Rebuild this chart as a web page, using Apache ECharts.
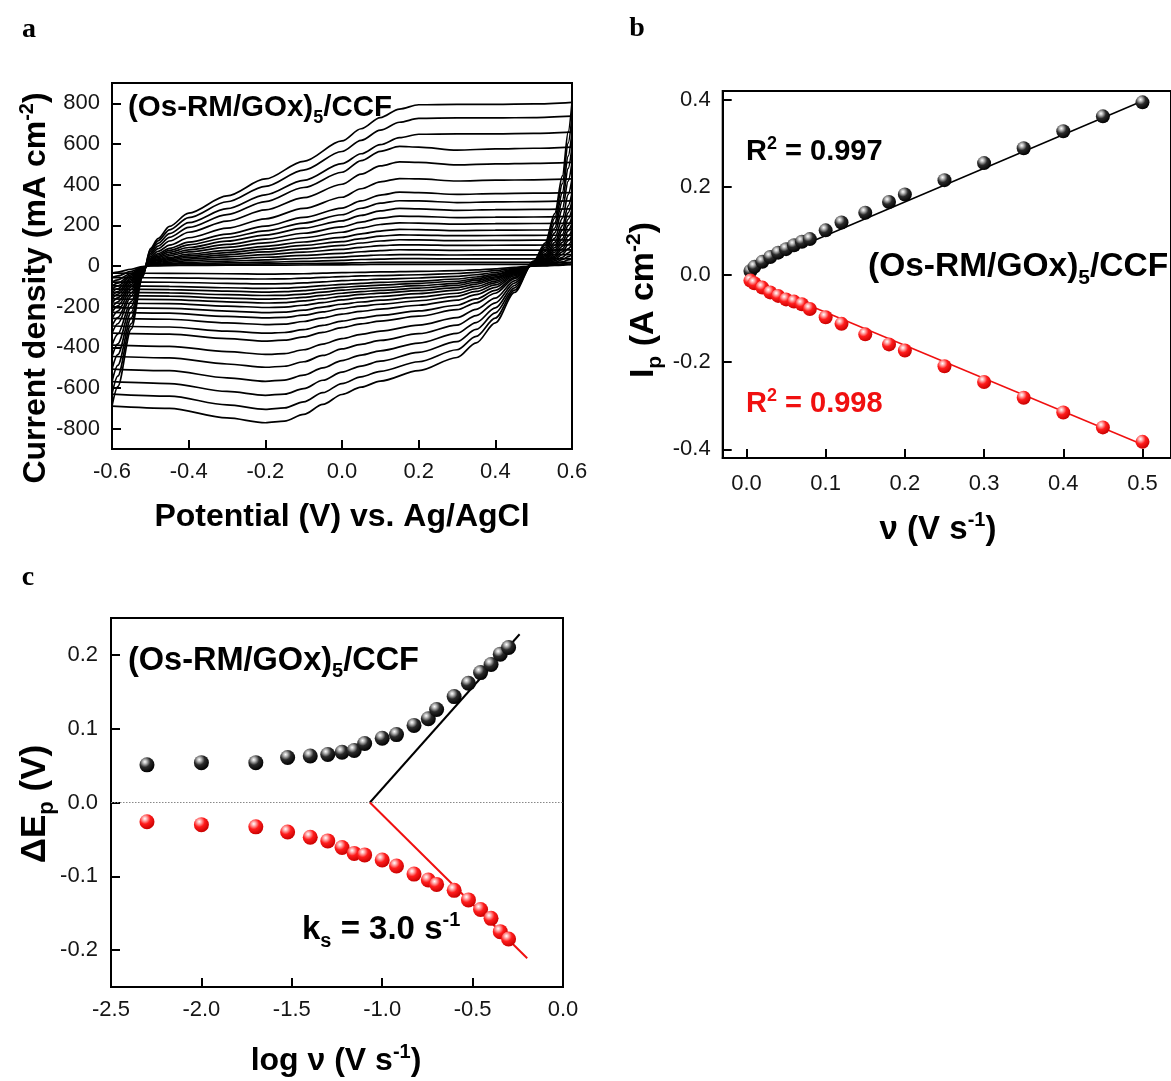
<!DOCTYPE html>
<html><head><meta charset="utf-8">
<script src="https://cdn.jsdelivr.net/npm/echarts@6/dist/echarts.min.js"></script>
<style>html,body{margin:0;padding:0;background:#fff}#c{width:1171px;height:1081px}</style>
</head><body><div id="c"></div><script>
// ---------- Panel a: CV curves ----------
const cvScanRates = [0.5, 0.45, 0.4, 0.35, 0.3, 0.25, 0.2, 0.18, 0.15, 0.12, 0.1, 0.08, 0.07, 0.06, 0.05, 0.04, 0.03, 0.02, 0.01, 0.005];
const cvPotentialAnodic = [-0.6, -0.585, -0.55, -0.52, -0.5, -0.48, -0.45, -0.4, -0.3, -0.2, -0.1, 0, 0.05, 0.1, 0.15, 0.2, 0.3, 0.4, 0.5, 0.6];
const cvPotentialCathodic = [0.6, 0.59, 0.575, 0.555, 0.53, 0.5, 0.45, 0.4, 0.35, 0.3, 0.2, 0.1, 0.05, 0, -0.05, -0.1, -0.15, -0.2, -0.3, -0.45, -0.6];
const cvAnodic = [
[-689, -593, -310, -55, 85, 135, 195, 260, 345, 428, 515, 615, 675, 730, 772, 793, 795, 795, 797, 805],
[-630, -542, -284, -50, 78, 124, 178, 238, 316, 392, 472, 563, 618, 668, 707, 726, 728, 728, 730, 737],
[-569, -489, -256, -46, 70, 111, 159, 213, 282, 350, 421, 503, 552, 597, 631, 648, 650, 650, 652, 658],
[-507, -436, -228, -41, 62, 98, 141, 190, 253, 317, 386, 461, 518, 564, 588, 585, 570, 576, 579, 585],
[-445, -383, -200, -36, 54, 85, 123, 166, 221, 276, 336, 402, 452, 492, 512, 510, 497, 502, 505, 510],
[-389, -335, -175, -31, 45, 72, 103, 139, 186, 232, 283, 338, 380, 414, 430, 428, 418, 422, 424, 428],
[-330, -284, -149, -26, 38, 61, 87, 117, 157, 196, 239, 285, 320, 349, 363, 361, 352, 356, 358, 361],
[-295, -254, -133, -24, 34, 54, 77, 104, 139, 173, 211, 252, 284, 309, 321, 320, 312, 315, 317, 320],
[-258, -222, -116, -21, 30, 47, 68, 91, 122, 152, 186, 222, 249, 271, 283, 281, 274, 277, 278, 281],
[-228, -196, -103, -18, 26, 41, 59, 79, 106, 132, 161, 192, 216, 235, 245, 244, 238, 240, 241, 244],
[-205, -176, -92, -16, 22, 35, 51, 69, 92, 114, 139, 166, 187, 204, 212, 211, 206, 208, 209, 211],
[-182, -157, -82, -15, 19, 30, 43, 58, 77, 97, 118, 141, 158, 172, 180, 179, 174, 176, 177, 179],
[-162, -139, -73, -13, 16, 26, 37, 50, 66, 83, 101, 120, 135, 147, 153, 152, 149, 150, 151, 152],
[-146, -126, -66, -12, 13, 21, 31, 42, 55, 69, 84, 101, 113, 123, 129, 128, 125, 126, 127, 128],
[-130, -112, -59, -10, 11, 17, 25, 34, 45, 56, 68, 82, 92, 100, 104, 104, 101, 102, 103, 104],
[-114, -98, -51, -9, 8, 13, 19, 26, 34, 43, 52, 62, 70, 76, 80, 79, 77, 78, 78, 79],
[-98, -84, -44, -8, 6, 9, 13, 18, 24, 30, 37, 44, 50, 54, 56, 56, 54, 55, 55, 56],
[-79, -68, -36, -6, 4, 6, 9, 12, 15, 19, 23, 28, 32, 34, 36, 36, 35, 35, 35, 36],
[-57, -49, -26, -5, 2, 3, 4, 6, 8, 10, 12, 14, 16, 18, 18, 18, 18, 18, 18, 18],
[-35, -30, -16, -3, 1, 1, 2, 3, 4, 4, 5, 6, 7, 8, 8, 8, 8, 8, 8, 8]
];
const cvCathodic = [
[805, 660, 443, 258, 113, 24, -130, -280, -378, -450, -515, -566, -596, -632, -681, -730, -763, -771, -747, -700, -689],
[737, 604, 405, 236, 103, 22, -119, -256, -346, -412, -471, -518, -545, -578, -623, -668, -698, -705, -683, -640, -630],
[658, 540, 362, 211, 92, 20, -108, -231, -312, -372, -425, -468, -492, -522, -562, -603, -630, -636, -617, -578, -569],
[585, 480, 322, 187, 82, 18, -96, -206, -278, -331, -379, -417, -438, -465, -501, -537, -561, -567, -550, -515, -507],
[510, 418, 281, 163, 71, 15, -84, -181, -244, -291, -333, -366, -385, -408, -440, -471, -493, -498, -482, -452, -445],
[428, 351, 235, 137, 60, 13, -73, -158, -213, -254, -291, -320, -336, -357, -384, -412, -431, -435, -421, -395, -389],
[361, 296, 199, 116, 51, 11, -62, -134, -181, -215, -247, -271, -285, -303, -326, -349, -365, -369, -357, -335, -330],
[320, 262, 176, 102, 45, 10, -56, -120, -162, -193, -221, -243, -255, -271, -292, -313, -327, -330, -320, -300, -295],
[281, 230, 155, 90, 39, 8, -49, -105, -141, -168, -193, -212, -223, -237, -255, -273, -286, -288, -280, -262, -258],
[244, 200, 134, 78, 34, 7, -43, -93, -125, -149, -171, -188, -197, -209, -226, -242, -253, -255, -248, -232, -228],
[211, 173, 116, 68, 30, 6, -39, -83, -112, -134, -153, -168, -177, -188, -202, -217, -227, -229, -222, -208, -205],
[179, 147, 98, 57, 25, 5, -34, -74, -100, -119, -136, -150, -157, -167, -180, -193, -202, -204, -197, -185, -182],
[152, 125, 84, 49, 21, 5, -31, -66, -89, -106, -121, -133, -140, -149, -161, -172, -180, -182, -176, -165, -162],
[128, 105, 70, 41, 18, 4, -28, -59, -80, -95, -109, -120, -126, -134, -144, -154, -161, -163, -158, -148, -146],
[104, 85, 57, 33, 15, 3, -25, -53, -71, -85, -97, -107, -112, -119, -128, -138, -144, -145, -141, -132, -130],
[79, 65, 43, 25, 11, 2, -22, -46, -63, -75, -85, -94, -99, -105, -113, -121, -126, -128, -124, -116, -114],
[56, 46, 31, 18, 8, 2, -19, -40, -54, -64, -74, -81, -85, -90, -97, -104, -109, -110, -107, -100, -98],
[36, 30, 20, 12, 5, 1, -15, -32, -43, -51, -59, -65, -68, -72, -78, -83, -87, -88, -85, -80, -79],
[18, 15, 10, 6, 3, 1, -11, -23, -31, -37, -43, -47, -49, -52, -56, -60, -63, -64, -62, -58, -57],
[8, 7, 4, 3, 1, 0, -7, -14, -19, -23, -26, -29, -31, -33, -35, -38, -39, -40, -38, -36, -35]
];
const cvXTicks = [-0.6, -0.4, -0.2, 0, 0.2, 0.4, 0.6];
const cvYTicks = [-800, -600, -400, -200, 0, 200, 400, 600, 800];

// ---------- Panel b: Ip vs scan rate ----------
const scanRates = [0.005, 0.01, 0.02, 0.03, 0.04, 0.05, 0.06, 0.07, 0.08, 0.1, 0.12, 0.15, 0.18, 0.2, 0.25, 0.3, 0.35, 0.4, 0.45, 0.5];
const ipAnodic = [0.008, 0.0175, 0.029, 0.040, 0.050, 0.058, 0.067, 0.075, 0.081, 0.101, 0.119, 0.1415, 0.166, 0.183, 0.216, 0.255, 0.289, 0.328, 0.362, 0.394];
const ipCathodic = [-0.014, -0.020, -0.030, -0.041, -0.049, -0.057, -0.062, -0.068, -0.079, -0.098, -0.113, -0.137, -0.160, -0.174, -0.210, -0.246, -0.282, -0.316, -0.350, -0.383];
const ipFitAnodic = [[0, 0.012], [0.5, 0.397]];
const ipFitCathodic = [[0, -0.011], [0.5, -0.389]];
const ipXTicks = [0, 0.1, 0.2, 0.3, 0.4, 0.5];
const ipYTicks = [-0.4, -0.2, 0, 0.2, 0.4];

// ---------- Panel c: Laviron plot ----------
const logScanRates = [-2.301, -2.0, -1.699, -1.523, -1.398, -1.301, -1.222, -1.155, -1.097, -1.0, -0.921, -0.824, -0.745, -0.699, -0.602, -0.523, -0.456, -0.398, -0.347, -0.301];
const dEpAnodic = [0.051, 0.054, 0.054, 0.061, 0.063, 0.065, 0.068, 0.0705, 0.080, 0.087, 0.092, 0.1045, 0.1135, 0.126, 0.1435, 0.1615, 0.176, 0.187, 0.201, 0.210];
const dEpCathodic = [-0.026, -0.030, -0.033, -0.040, -0.047, -0.052, -0.061, -0.069, -0.071, -0.078, -0.086, -0.097, -0.105, -0.111, -0.119, -0.132, -0.145, -0.157, -0.175, -0.185];
const lavFitAnodic = [[-1.068, 0], [-0.24, 0.228]];
const lavFitCathodic = [[-1.068, 0], [-0.198, -0.211]];
const lavZeroLine = [[-2.5, 0], [0, 0]];
const lavXTicks = [-2.5, -2.0, -1.5, -1.0, -0.5, 0];
const lavYTicks = [-0.2, -0.1, 0, 0.1, 0.2];

const F = '"Liberation Sans", Arial, sans-serif';
const RED = '#f01010';

function sphere(dark) {
  return {
    type: 'radial', x: 0.36, y: 0.3, r: 0.72,
    colorStops: dark ? [
      {offset: 0, color: '#ffffff'}, {offset: 0.18, color: '#bdbdbd'},
      {offset: 0.5, color: '#2a2a2a'}, {offset: 1, color: '#000000'}
    ] : [
      {offset: 0, color: '#ffffff'}, {offset: 0.18, color: '#ffb4b4'},
      {offset: 0.5, color: '#ff1c1c'}, {offset: 1, color: '#c80000'}
    ]
  };
}

function valAxis(grid, min, max, ticks, fmt, margin) {
  return {
    gridIndex: grid, type: 'value', min: min, max: max,
    axisLine: {show: true, onZero: false, lineStyle: {color: '#000', width: 2}},
    splitLine: {show: false},
    axisTick: {show: true, inside: true, length: 9, lineStyle: {color: '#000', width: 2}, customValues: ticks},
    axisLabel: {show: true, customValues: ticks, formatter: fmt, margin: margin,
      fontSize: 22, color: '#151515', fontFamily: F}
  };
}
const f1 = v => v.toFixed(1);
const f0 = v => String(Math.round(v));

const series = [];
cvScanRates.forEach((v, i) => {
  series.push({
    type: 'line', xAxisIndex: 0, yAxisIndex: 0, name: 'anodic ' + v,
    data: cvPotentialAnodic.map((e, k) => [e, cvAnodic[i][k]]),
    showSymbol: false, symbol: 'none', smooth: 0.3, smoothMonotone: 'x', silent: true,
    lineStyle: {color: '#000', width: 1.7}
  });
  series.push({
    type: 'line', xAxisIndex: 0, yAxisIndex: 0, name: 'cathodic ' + v,
    data: cvPotentialCathodic.map((e, k) => [e, cvCathodic[i][k]]),
    showSymbol: false, symbol: 'none', smooth: 0.3, smoothMonotone: 'x', silent: true,
    lineStyle: {color: '#000', width: 1.7}
  });
});
// panel b
series.push({type: 'line', xAxisIndex: 1, yAxisIndex: 1, data: ipFitAnodic, symbol: 'none', lineStyle: {color: '#000', width: 1.5}, z: 2});
series.push({type: 'line', xAxisIndex: 1, yAxisIndex: 1, data: ipFitCathodic, symbol: 'none', lineStyle: {color: RED, width: 1.5}, z: 2});
series.push({type: 'scatter', xAxisIndex: 1, yAxisIndex: 1, data: scanRates.map((x, i) => [x, ipAnodic[i]]), symbolSize: 14, itemStyle: {color: sphere(true), opacity: 1}, z: 3});
series.push({type: 'scatter', xAxisIndex: 1, yAxisIndex: 1, data: scanRates.map((x, i) => [x, ipCathodic[i]]), symbolSize: 14, itemStyle: {color: sphere(false), opacity: 1}, z: 3});
// panel c
series.push({type: 'line', xAxisIndex: 2, yAxisIndex: 2, data: lavZeroLine, symbol: 'none', lineStyle: {color: '#888', width: 1, type: [1.5, 1.5]}, z: 1});
series.push({type: 'line', xAxisIndex: 2, yAxisIndex: 2, data: lavFitAnodic, symbol: 'none', lineStyle: {color: '#000', width: 2}, z: 2});
series.push({type: 'line', xAxisIndex: 2, yAxisIndex: 2, data: lavFitCathodic, symbol: 'none', lineStyle: {color: RED, width: 2}, z: 2});
series.push({type: 'scatter', xAxisIndex: 2, yAxisIndex: 2, data: logScanRates.map((x, i) => [x, dEpAnodic[i]]), symbolSize: 15, itemStyle: {color: sphere(true), opacity: 1}, z: 3});
series.push({type: 'scatter', xAxisIndex: 2, yAxisIndex: 2, data: logScanRates.map((x, i) => [x, dEpCathodic[i]]), symbolSize: 15, itemStyle: {color: sphere(false), opacity: 1}, z: 3});

function richSet(S, color) {
  const c = color || '#000';
  const s = Math.round(S * 0.62);
  const mp = Math.round(0.08 * S);
  return {
    n: {fontSize: S, lineHeight: S, fontWeight: 'bold', fontFamily: F, fill: c, verticalAlign: 'top', padding: [mp, 0, 0, 0]},
    sub: {fontSize: s, lineHeight: s, fontWeight: 'bold', fontFamily: F, fill: c, verticalAlign: 'top', padding: [Math.round(1.05 * S - 0.85 * s) + mp, 0, 0, 0]},
    sup: {fontSize: s, lineHeight: s, fontWeight: 'bold', fontFamily: F, fill: c, verticalAlign: 'top', padding: [0, 0, 0, 0]}
  };
}
function txt(x, y, text, S, opts) {
  opts = opts || {};
  return {
    type: 'text', x: x, y: y, rotation: opts.rot || 0, z: 100, silent: true,
    style: {
      text: text, rich: richSet(S, opts.color),
      align: opts.align || 'left', textAlign: opts.align || 'left',
      verticalAlign: 'middle', textVerticalAlign: 'middle'
    }
  };
}
function letter(x, y, t) {
  return {type: 'text', x: x, y: y, z: 100, silent: true,
    style: {text: t, font: 'bold 28px "Liberation Serif", "Times New Roman", serif', fill: '#000',
      align: 'center', textAlign: 'center', verticalAlign: 'middle', textVerticalAlign: 'middle'}};
}
const label5 = '{n|(Os-RM/GOx)}{sub|5}{n|/CCF}';

const option = {
  backgroundColor: '#fff',
  animation: false,
  grid: [
    {left: 112, top: 83, width: 460, height: 366, show: true, borderColor: '#000', borderWidth: 2, backgroundColor: 'transparent'},
    {left: 722.7, top: 91, width: 449.5, height: 367, show: true, borderColor: '#000', borderWidth: 2, backgroundColor: 'transparent'},
    {left: 111, top: 618, width: 452, height: 369, show: true, borderColor: '#000', borderWidth: 2, backgroundColor: 'transparent'}
  ],
  xAxis: [
    valAxis(0, -0.6, 0.6, cvXTicks, f1, 12),
    valAxis(1, -0.03, 0.536, ipXTicks, f1, 15),
    valAxis(2, -2.5, 0, lavXTicks, f1, 12)
  ],
  yAxis: [
    valAxis(0, -900, 900, cvYTicks, f0, 12),
    valAxis(1, -0.42, 0.42, ipYTicks, f1, 12),
    valAxis(2, -0.25, 0.25, lavYTicks, f1, 13)
  ],
  series: series,
  graphic: [
    letter(29, 30, 'a'), letter(637, 29, 'b'), letter(28, 578, 'c'),
    // panel a
    txt(33, 288, '{n|Current density (mA cm}{sup|-2}{n|)}', 32, {rot: Math.PI / 2, align: 'center'}),
    txt(342, 514, '{n|Potential (V) vs. Ag/AgCl}', 32, {align: 'center'}),
    txt(128, 106, label5, 29.5),
    // panel b
    txt(641, 300, '{n|I}{sub|p}{n| (A cm}{sup|-2}{n|)}', 34, {rot: Math.PI / 2, align: 'center'}),
    txt(938, 527, '{n|ν (V s}{sup|-1}{n|)}', 33, {align: 'center'}),
    txt(746, 150, '{n|R}{sup|2}{n| = 0.997}', 29),
    txt(868, 264, label5, 33.5),
    txt(746, 402, '{n|R}{sup|2}{n| = 0.998}', 29, {color: RED}),
    // panel c
    txt(32, 804, '{n|ΔE}{sub|p}{n| (V)}', 35, {rot: Math.PI / 2, align: 'center'}),
    txt(336, 1058, '{n|log ν (V s}{sup|-1}{n|)}', 32, {align: 'center'}),
    txt(128, 658, label5, 32.5),
    txt(302, 927, '{n|k}{sub|s}{n| = 3.0 s}{sup|-1}', 33)
  ]
};
const chart = echarts.init(document.getElementById('c'), null, {renderer: 'canvas'});
chart.setOption(option);
</script></body></html>
